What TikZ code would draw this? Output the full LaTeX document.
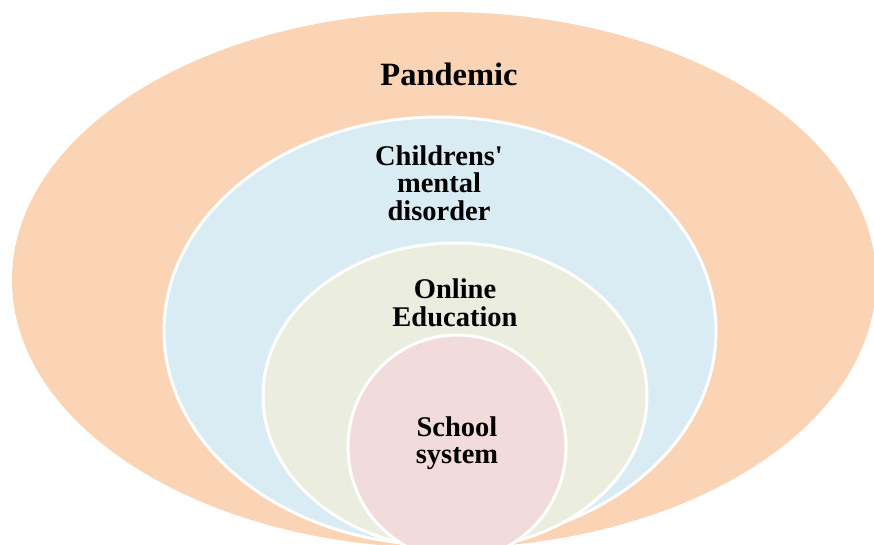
\documentclass[tikz,border=0pt]{standalone}
\usepackage{fontspec}
\setmainfont{Liberation Serif}
\definecolor{orng}{HTML}{FAD4B4}
\definecolor{blu}{HTML}{DAECF3}
\definecolor{grn}{HTML}{EBEEDE}
\definecolor{pnk}{HTML}{F2DCDB}
\begin{document}
\begin{tikzpicture}[x=1pt,y=-1pt,
  ring/.style={draw=white,line width=3pt},
  lbl/.style={font=\fontsize{28.5}{27.5}\selectfont\bfseries,align=center,inner sep=0pt},
  bigl/.style={font=\fontsize{32.5}{32}\selectfont\bfseries,inner sep=0pt}]
\useasboundingbox (0,0) rectangle (874,545);
\clip (0,0) rectangle (874,545);
\fill[orng] (444,280) ellipse [x radius=432, y radius=268];
\filldraw[ring,fill=blu] (440,331) ellipse [x radius=276, y radius=214];
\filldraw[ring,fill=grn] (455,396) ellipse [x radius=192, y radius=153];
\filldraw[ring,fill=pnk] (457,447) ellipse [x radius=109, y radius=112];
\node[bigl] (pan) at (449,74) {Pandemic};
\node[lbl] (chi) at (439,183) {Childrens\textquotesingle\\mental\\disorder};
\node[lbl] (onl) at (455,303) {Online\\Education};
\node[lbl] (sch) at (457,443) {School\\system};
\end{tikzpicture}
\end{document}
